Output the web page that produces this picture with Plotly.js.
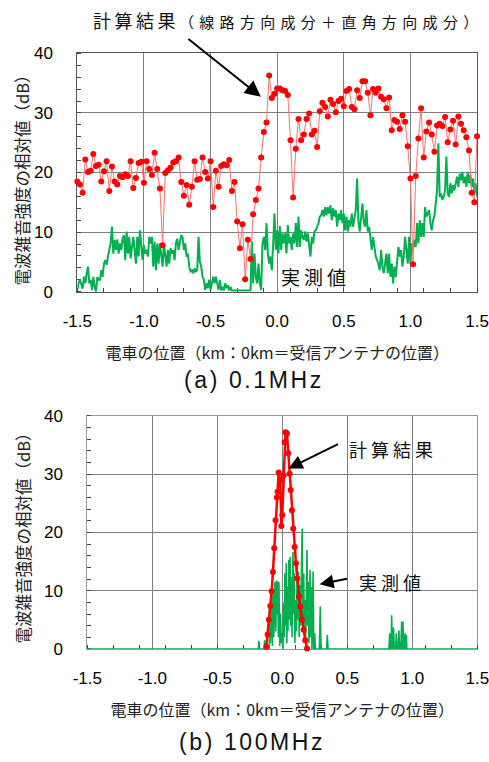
<!DOCTYPE html>
<html>
<head>
<meta charset="utf-8">
<script src="https://cdn.plot.ly/plotly-3.0.1.min.js"></script>
<style>html,body{margin:0;padding:0;background:#fff;}#chart{width:489px;height:762px;}</style>
</head>
<body>
<div id="chart"></div>
<script>
// ---------- (a) 0.1MHz ----------
// 計算結果: sampled every 0.02 km from -1.5 km
const calcA_x0 = -1.5, calcA_dx = 0.02;
const calcA = [
  18.5,18.0,16.6,22.2,20.1,20.3,23.1,21.1,21.3,18.5,20.2,21.9,16.9,21.0,18.5,18.0,19.4,19.2,19.7,19.4,
  21.9,17.4,19.1,21.6,21.8,18.3,21.9,20.6,19.6,23.3,20.6,17.3,7.8,19.9,20.4,20.8,21.7,21.9,22.5,
  18.4,16.1,17.9,14.6,17.6,21.9,18.8,18.9,22.5,20.1,19.0,21.9,14.2,20.3,17.6,21.1,21.4,21.2,22.1,16.9,
  18.4,11.8,7.3,11.3,2.1,8.7,5.5,13.0,15.4,17.3,22.5,26.8,28.4,36.3,32.5,33.2,34.1,
  34.1,33.8,33.7,33.0,25.4,15.8,24.0,29.0,25.4,26.4,29.0,29.9,26.4,27.0,24.3,30.3,31.7,31.0,29.4,32.2,
  31.5,30.1,32.0,32.4,31.1,33.7,34.0,31.0,30.6,33.8,32.5,35.3,35.3,33.4,29.6,34.0,33.4,34.1,
  32.7,32.3,30.8,32.6,27.1,28.8,28.5,27.3,29.6,28.5,24.4,19.0,4.6,19.4,25.7,30.8,22.5,26.9,28.4,26.4,
  23.5,27.9,28.2,27.8,29.3,25.1,27.2,28.7,24.7,29.4,28.2,27.1,25.9,23.7,16.6,15.0,26.1
];
// 実測値: sampled every 0.01 km from -1.5 km
const measA_x0 = -1.5, measA_dx = 0.01;
const measA = [
  0.3,1.5,2.0,1.0,0.5,2.5,1.4,3.0,4.2,1.4, 2.0,0.3,2.5,0.8,0.0,2.5,2.0,2.0,3.6,2.5,
  4.7,5.3,4.5,5.9,7.0,8.1,10.9,6.4,8.7,7.0, 8.8,6.4,8.1,7.0,8.9,9.5,5.3,10.1,6.4,9.2,
  5.6,7.5,9.2,7.0,4.7,9.2,5.9,10.3,8.0,5.3,
  7.8,6.4,7.0,5.9,9.2,8.1,9.2,4.2,8.4,3.6, 8.1,4.7,8.1,6.4,4.2,8.1,5.9,4.2,7.0,4.7,
  7.3,6.4,7.0,5.3,8.1,8.9,7.0,
  8.2,9.5,9.2,7.0,8.1,5.9,6.4,4.2,3.4,3.6, 3.1,3.9,3.4,3.6,9.2,5.0,4.2,2.5,2.0,0.3,
  1.4,0.6,2.0,0.3,1.4,2.5,1.4,2.5,1.4,0.3, 2.0,0.2,0.8,0.2,1.4,0.6,1.1,0.2,0.8,0.2,
  0.2,0.2,0.2,0.2,0.2,0.2,0.2,0.2,0.2,0.2,0.2,0.2,0.2,0.2,
  8.4,1.4,6.4,2.5,1.4,4.7,1.4,0.3,8.1,9.2, 7.0,11.5,6.4,4.7,5.9,3.6,8.1,13.1,7.0,10.3,
  6.4,11.0,7.0,9.8,8.1,9.8,6.4,11.2,8.1,9.2, 7.0,9.8,8.1,11.5,7.5,12.6,7.5,10.3,9.2,8.7,
  10.1,8.4,9.8,7.5,5.9,9.2,8.1,10.1,10.3,10.9, 11.5,12.6,12.8,13.7,12.6,14.2,12.8,14.2,13.1,14.5,
  12.0,14.0,12.6,13.7,10.9,13.1,12.0,13.7,11.5,13.1, 10.3,12.6,10.1,12.0,10.9,13.1,10.9,12.3,13.7,19.0,
  11.7,10.1,12.0,14.8,11.7,10.9,13.7,10.1,10.9,9.2, 7.0,9.2,7.5,5.9,5.3,4.7,
  3.6,7.0,4.2,3.1,4.7,6.4,3.1,6.4,2.5,4.7, 1.4,4.2,2.5,5.9,7.5,5.9,7.0,4.2,5.9,9.2,
  7.0,4.7,9.2,4.7,8.1,7.0,8.7,7.5,11.5,8.1, 12.0,9.2,11.5,9.2,14.2,12.6,13.1,13.7,11.5,10.3,
  12.0,12.6,14.8,17.0,24.9,15.9,16.5,15.4,15.9,17.0, 22.7,16.5,15.9,18.2,16.5,17.9,17.0,18.2,19.3,17.6,
  19.8,18.7,20.1,18.2,19.3,17.6,20.1,18.2,19.6,17.6, 19.0,16.5,18.2,15.9
];

// ---------- (b) 100MHz ----------
const calcB_x = [-0.123,-0.113,-0.103,-0.092,-0.082,-0.072,-0.062,-0.052,-0.042,-0.036,-0.028,-0.016,-0.007,0.000,0.010,0.018,
  0.025,0.036,0.046,0.056,0.064,0.074,0.084,0.095,0.105,0.115,0.128,0.138,0.151,0.164,0.177,0.190];
const calcB_y = [0.4,2.5,5.0,7.4,9.9,13.2,17.3,22.1,26.0,27.0,30.3,29.0,21.1,23.0,29.8,35.5,
  37.2,37.0,33.6,30.1,27.3,23.8,20.7,17.5,14.7,12.1,9.0,7.3,5.0,3.3,1.5,0.1];
const measB_x = [-1.5,-0.185,-0.18,-0.175,-0.14,-0.136,-0.13,-0.10,-0.097,-0.092,-0.085,-0.08,-0.076,-0.072,-0.066,-0.06,-0.056,
  -0.05,-0.045,-0.04,-0.036,-0.03,-0.026,-0.02,-0.014,-0.008,-0.003,0.005,0.01,0.015,0.02,0.025,0.03,0.035,0.038,0.043,
  0.05,0.055,0.06,0.065,0.07,0.075,0.082,0.087,0.092,0.097,0.103,0.108,0.115,0.12,0.125,0.13,0.135,0.14,0.148,0.153,
  0.158,0.165,0.17,0.175,0.18,0.19,0.195,0.2,0.205,0.213,0.218,0.223,0.228,0.237,0.242,0.249,0.255,0.285,0.292,0.298,
  0.34,0.346,0.352,0.82,0.826,0.832,0.838,0.841,0.846,0.852,0.856,0.861,0.872,0.877,0.882,0.892,0.897,0.902,0.912,
  0.918,0.923,0.926,0.928,0.933,0.94,0.944,0.949,0.952,0.954,0.958,1.5];
const measB_y = [0,0,1.4,0,0,1.5,0,0,7.3,1,4,7.3,0.5,9.8,2,8,11.5,
  3,11.8,6,11.6,2,11.5,0.5,6.1,1,2.7,0,8,2,13.0,4,14.7,1,10.7,3,
  15.3,5,15.8,4,12.4,2,16.7,6,13.0,1,8.4,3,14.7,5,13.3,2,11,4,12,20.7,
  3,13,1,8.4,2,17.0,4,11.5,1,13.6,2,10.7,0,13.3,0,2.7,0,0,7.3,0,
  0,2.4,0,0,2.7,0,0.5,5.8,0,1,3.7,0,0,2.7,0,0,3.2,0,0,
  4.7,0,1,4.7,0,0,2.7,0,0,2.4,0,0];

// ---------- ticks & texts ----------
const xTickVals = [-1.5,-1.0,-0.5,0.0,0.5,1.0,1.5];
const xTickText = ['-1.5','-1.0','-0.5','0.0','0.5','1.0','1.5'];
const yTickVals = [0,10,20,30,40];
const yTickText = ['0','10','20','30','40'];
const xTitle = '電車の位置（km：0km＝受信アンテナの位置）';
const yTitle = '電波雑音強度の相対値（dB）';
const calcLabelA1 = '計算結果';
const calcLabelA2 = '（線路方向成分＋直角方向成分）';
const calcLabelB = '計算結果';
const measLabel = '実測値';
const captionA = '(a) 0.1MHz';
const captionB = '(b) 100MHz';

const RED = '#ff0000', GREEN = '#00b050';
const CJK = 'Noto Sans CJK JP';
const LAT = 'Liberation Sans, Arial, sans-serif';

const traces = [
  {type:'scatter', mode:'lines', x0:measA_x0, dx:measA_dx, y:measA, xaxis:'x', yaxis:'y',
   line:{color:GREEN, width:2}, hoverinfo:'skip', name:'実測値'},
  {type:'scatter', mode:'lines+markers', x0:calcA_x0, dx:calcA_dx, y:calcA, xaxis:'x', yaxis:'y',
   line:{color:'#ff7070', width:1}, marker:{color:RED, size:6}, cliponaxis:false, name:'計算結果'},
  {type:'scatter', mode:'lines', x:measB_x, y:measB_y, xaxis:'x2', yaxis:'y2',
   line:{color:GREEN, width:1.6}, hoverinfo:'skip', name:'実測値'},
  {type:'scatter', mode:'lines+markers', x:calcB_x, y:calcB_y, xaxis:'x2', yaxis:'y2',
   line:{color:RED, width:2.5}, marker:{color:RED, size:6}, cliponaxis:false, name:'計算結果'}
];

function xAxis(domain, anchor, lineColor){
  return {domain:domain, anchor:anchor, range:[-1.5,1.5], tickmode:'array', tickvals:xTickVals, ticktext:xTickText,
    showgrid:true, gridcolor:'#7f7f7f', gridwidth:1, zeroline:false, showline:true, linecolor:lineColor, linewidth:1,
    mirror:true, ticks:'', ticklabelstandoff:14, ticklabeloverflow:'allow', layer:'below traces',
    tickfont:{family:LAT, size:17, color:'#000'},
    minor:{tick0:-1.5, dtick:0.2, ticks:'inside', ticklen:4, tickcolor:'#444', tickwidth:1, showgrid:false},
    title:{text:xTitle, font:{family:CJK, size:16, color:'#222'}, standoff:17}, automargin:false, fixedrange:true};
}
function yAxis(domain, anchor, lineColor){
  return {domain:domain, anchor:anchor, range:[0,40], tickmode:'array', tickvals:yTickVals, ticktext:yTickText,
    showgrid:true, gridcolor:'#7f7f7f', gridwidth:1, zeroline:false, showline:true, linecolor:lineColor, linewidth:1,
    mirror:true, ticks:'', ticklabelstandoff:20, ticklabeloverflow:'allow', layer:'below traces',
    tickfont:{family:LAT, size:17, color:'#000'},
    minor:{tick0:0, dtick:2, ticks:'inside', ticklen:4, tickcolor:'#444', tickwidth:1, showgrid:false},
    automargin:false, fixedrange:true};
}

const layout = {
  width:489, height:762, margin:{l:0,r:0,t:0,b:0}, paper_bgcolor:'#fff', plot_bgcolor:'#fff', showlegend:false,
  xaxis: xAxis([0.1581,0.9755],'y','#555'),
  yaxis: yAxis([0.6172,0.9300],'x','#555'),
  xaxis2: xAxis([0.1785,0.9761],'y2','#999'),
  yaxis2: yAxis([0.1483,0.4541],'x2','#999'),
  annotations:[
    // y-axis titles (vertical)
    {xref:'paper', yref:'paper', x:0.0460, y:0.7690, xanchor:'center', yanchor:'middle', textangle:-90, showarrow:false,
     text:yTitle, font:{family:CJK, size:16.5, color:'#222'}},
    {xref:'paper', yref:'paper', x:0.0465, y:0.2995, xanchor:'center', yanchor:'middle', textangle:-90, showarrow:false,
     text:yTitle, font:{family:CJK, size:16.5, color:'#222'}},
    {xref:'paper', yref:'paper', x:0.590, y:0.9738, xanchor:'center', yanchor:'middle', showarrow:false,
     text:'<span style="font-size:18px;letter-spacing:3.5px">'+calcLabelA1+'</span><span style="letter-spacing:5.3px">'+calcLabelA2+'</span>',
     font:{family:CJK, size:15, color:'#111'}},
    {xref:'x', yref:'y', x:-0.122, y:32.7, ax:-74, ay:-59, text:'', showarrow:true, arrowhead:2, arrowsize:1.6, arrowwidth:2, arrowcolor:'#000', standoff:0},
    {xref:'x', yref:'y', x:0.29, y:2.6, xanchor:'center', yanchor:'middle', showarrow:false,
     text:'<span style="letter-spacing:4px">'+measLabel+'</span>', font:{family:CJK, size:19, color:'#111'}},
    {xref:'paper', yref:'paper', x:0.5204, y:0.5013, xanchor:'center', yanchor:'middle', showarrow:false,
     text:'<span style="letter-spacing:2.6px">'+captionA+'</span>', font:{family:LAT, size:23, color:'#111'}},
    {xref:'x2', yref:'y2', x:0.852, y:34.3, xanchor:'center', yanchor:'middle', showarrow:false,
     text:'<span style="letter-spacing:4px">'+calcLabelB+'</span>', font:{family:CJK, size:18, color:'#111'}},
    {xref:'x2', yref:'y2', x:0.048, y:31.0, ax:51, ay:-25, text:'', showarrow:true, arrowhead:2, arrowsize:1.4, arrowwidth:2, arrowcolor:'#000', standoff:0},
    {xref:'x2', yref:'y2', x:0.845, y:11.5, xanchor:'center', yanchor:'middle', showarrow:false,
     text:'<span style="letter-spacing:4px">'+measLabel+'</span>', font:{family:CJK, size:18, color:'#111'}},
    {xref:'x2', yref:'y2', x:0.287, y:11.1, ax:29, ay:-6, text:'', showarrow:true, arrowhead:2, arrowsize:1.4, arrowwidth:2, arrowcolor:'#000', standoff:0},
    {xref:'paper', yref:'paper', x:0.515, y:0.0262, xanchor:'center', yanchor:'middle', showarrow:false,
     text:'<span style="letter-spacing:2.6px">'+captionB+'</span>', font:{family:LAT, size:23, color:'#111'}}
  ]
};

Plotly.newPlot('chart', traces, layout, {displayModeBar:false, staticPlot:true});
</script>
</body>
</html>
